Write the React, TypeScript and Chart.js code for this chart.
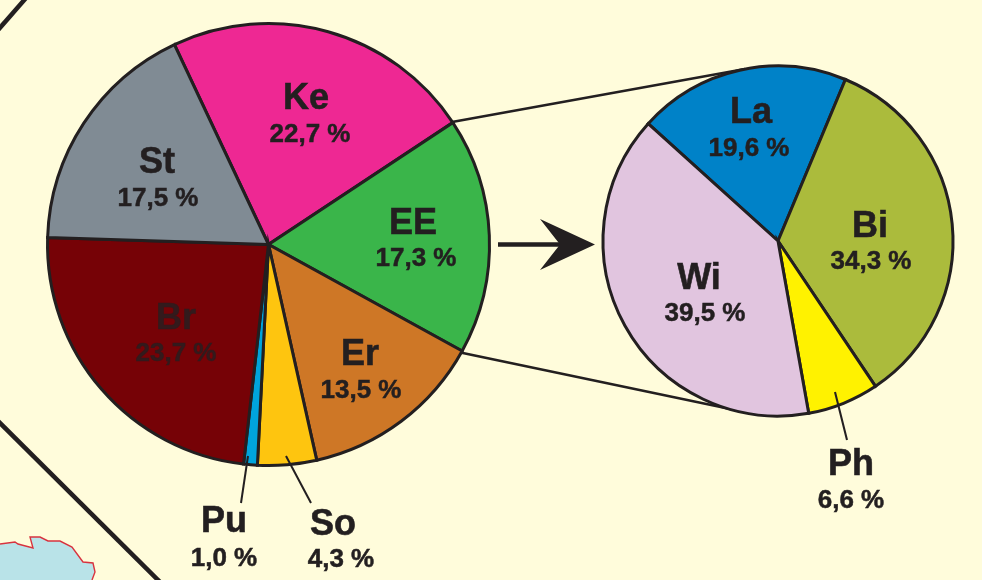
import React, { useEffect, useRef } from "react";
import { Chart, registerables } from "chart.js";

Chart.register(...registerables);

const mainLabels = ["Ke", "EE", "Er", "So", "Pu", "Br", "St"];
const mainValues = [22.7, 17.3, 13.5, 4.3, 1.0, 23.7, 17.5];
const mainColors = ["#ee2893", "#3ab54a", "#ce7726", "#fec50f", "#00a4dc", "#760206", "#808b94"];

const detailLabels = ["La", "Bi", "Ph", "Wi"];
const detailValues = [19.6, 34.3, 6.6, 39.5];
const detailColors = ["#0082c8", "#abbb3c", "#fff200", "#e1c5df"];

const INK = "#231f20";
const PAPER = "#fffcdb";
const W = 982;
const H = 580;
const BORDER = 3;

const fmt = (v: number) => v.toFixed(1).replace(".", ",") + " %";

type Place = { nx: number; ny: number; vx: number; vy: number; nc?: string; vc?: string };

const mainPlaces: Record<string, Place> = {
  Ke: { nx: 306, ny: 99, vx: 310, vy: 135 },
  EE: { nx: 413, ny: 224, vx: 416, vy: 259 },
  Er: { nx: 360, ny: 355, vx: 361, vy: 391 },
  So: { nx: 333, ny: 525, vx: 341, vy: 560 },
  Pu: { nx: 224, ny: 522, vx: 224, vy: 559 },
  Br: { nx: 176, ny: 319, vx: 176, vy: 354, nc: "#331a1c", vc: "#331a1c" },
  St: { nx: 157, ny: 163, vx: 158, vy: 199 },
};

const detailPlaces: Record<string, Place> = {
  La: { nx: 751, ny: 113, vx: 749, vy: 149 },
  Bi: { nx: 870, ny: 227, vx: 871, vy: 262 },
  Ph: { nx: 851, ny: 465, vx: 851, vy: 501 },
  Wi: { nx: 699, ny: 279, vx: 705, vy: 314 },
};

function line(ctx: CanvasRenderingContext2D, pts: number[][], width: number, color = INK) {
  ctx.save();
  ctx.strokeStyle = color;
  ctx.lineWidth = width;
  ctx.beginPath();
  pts.forEach((p, i) => (i ? ctx.lineTo(p[0], p[1]) : ctx.moveTo(p[0], p[1])));
  ctx.stroke();
  ctx.restore();
}

const backdrop = {
  id: "backdrop",
  beforeDraw(chart: Chart) {
    const ctx = chart.ctx;
    ctx.save();
    ctx.fillStyle = PAPER;
    ctx.fillRect(0, 0, W, H);
    // map outline at the lower-left corner
    const shore = [
      [0, 544], [15, 542], [18, 544], [33, 548], [30, 537], [40, 537], [48, 541], [60, 541],
      [72, 547], [83, 562], [93, 563], [95, 572], [92, 580],
    ];
    ctx.beginPath();
    shore.forEach((p, i) => (i ? ctx.lineTo(p[0], p[1]) : ctx.moveTo(p[0], p[1])));
    ctx.lineTo(0, 580);
    ctx.closePath();
    ctx.fillStyle = "#b9e3e8";
    ctx.fill();
    line(ctx, shore, 1.4, "#d8333f");
    // frame lines
    line(ctx, [[-2, 30], [26, -2]], 4.5);
    line(ctx, [[-2, 421], [160, 582]], 4.5);
    // connectors
    line(ctx, [[452, 122], [745, 69]], 2.5);
    line(ctx, [[458, 352], [735, 410]], 2.5);
    // arrow
    line(ctx, [[498, 244.5], [565, 244.5]], 4.5);
    ctx.beginPath();
    ctx.moveTo(595, 244.5);
    ctx.lineTo(540, 219);
    ctx.lineTo(560, 244.5);
    ctx.lineTo(540, 270);
    ctx.closePath();
    ctx.fillStyle = INK;
    ctx.fill();
    ctx.restore();
  },
};

const labelPlugin = (
  labels: string[],
  values: number[],
  places: Record<string, Place>,
  leaders: number[][][]
) => ({
  id: "labels",
  afterDraw(chart: Chart) {
    const ctx = chart.ctx;
    leaders.forEach((l) => line(ctx, l, 2));
    ctx.save();
    ctx.textAlign = "center";
    ctx.textBaseline = "middle";
    labels.forEach((name, i) => {
      const p = places[name];
      ctx.font = 'bold 36px "Liberation Sans", Arial, sans-serif';
      ctx.fillStyle = p.nc || INK;
      ctx.strokeStyle = p.nc || INK;
      ctx.lineWidth = 0.6;
      ctx.fillText(name, p.nx, p.ny);
      ctx.strokeText(name, p.nx, p.ny);
      ctx.font = 'bold 26px "Liberation Sans", Arial, sans-serif';
      ctx.fillStyle = p.vc || INK;
      ctx.strokeStyle = p.vc || INK;
      ctx.lineWidth = 0.5;
      ctx.fillText(fmt(values[i]), p.vx, p.vy);
      ctx.strokeText(fmt(values[i]), p.vx, p.vy);
    });
    ctx.restore();
  },
});

function pieConfig(
  labels: string[],
  values: number[],
  colors: string[],
  cx: number,
  cy: number,
  r: number,
  rotation: number,
  plugins: any[]
): any {
  const half = r + BORDER / 2;
  return {
    type: "pie",
    data: {
      labels,
      datasets: [
        { data: values, backgroundColor: colors, borderColor: INK, borderWidth: BORDER, borderJoinStyle: "miter" },
      ],
    },
    options: {
      responsive: false,
      animation: false,
      rotation,
      layout: {
        padding: { left: cx - half, top: cy - half, right: W - cx - half, bottom: H - cy - half },
      },
      plugins: { legend: { display: false }, tooltip: { enabled: false } },
    },
    plugins,
  };
}

export default function App() {
  const a = useRef<HTMLCanvasElement>(null);
  const b = useRef<HTMLCanvasElement>(null);

  useEffect(() => {
    document.body.style.margin = "0";
    document.body.style.background = PAPER;
    const c1 = new Chart(
      a.current!,
      pieConfig(mainLabels, mainValues, mainColors, 268.5, 244.5, 221, -25.2, [
        backdrop,
        labelPlugin(mainLabels, mainValues, mainPlaces, [
          [[248, 456], [241, 503]],
          [[286, 456], [311, 503]],
        ]),
      ])
    );
    const c2 = new Chart(
      b.current!,
      pieConfig(detailLabels, detailValues, detailColors, 778, 241, 175, -47.9, [
        labelPlugin(detailLabels, detailValues, detailPlaces, [[[835, 392], [847, 440]]]),
      ])
    );
    return () => {
      c1.destroy();
      c2.destroy();
    };
  }, []);

  const style: React.CSSProperties = { position: "absolute", left: 0, top: 0, display: "block" };
  return (
    <div style={{ position: "relative", width: W, height: H, overflow: "hidden" }}>
      <canvas ref={a} width={W} height={H} style={style} />
      <canvas ref={b} width={W} height={H} style={style} />
    </div>
  );
}
